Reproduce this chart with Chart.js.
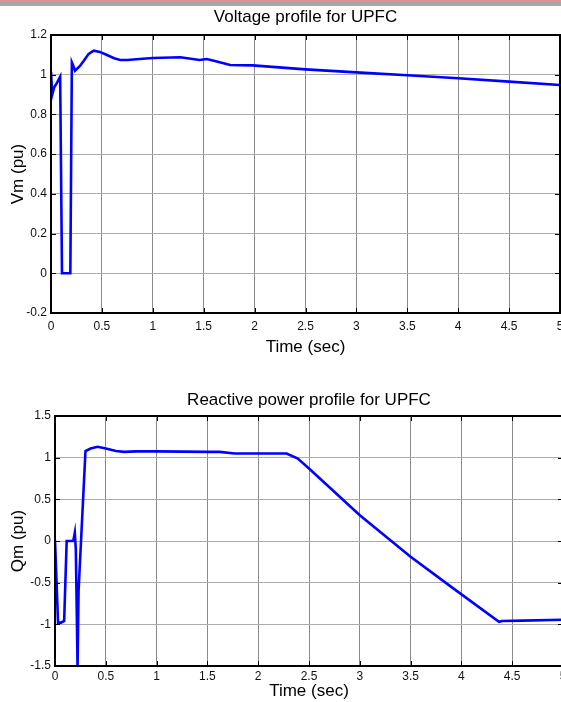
<!DOCTYPE html>
<html>
<head>
<meta charset="utf-8">
<script src="https://cdn.jsdelivr.net/npm/chart.js@4/dist/chart.umd.min.js"></script>
<style>
  html, body { margin: 0; padding: 0; background: #fff; overflow: hidden; }
  #page { position: relative; width: 561px; height: 702px; overflow: hidden; }
  #band { position: absolute; left: 0; top: 0; width: 561px; height: 6px;
          background: linear-gradient(#e09090 0, #e09090 2px, #a6a6a6 2px, #a6a6a6 6px); }
  canvas { position: absolute; left: 0; }
  #vmChart { top: 0; }
  #qmChart { top: 351px; }
</style>
</head>
<body>
<div id="page">
  <div id="band"></div>
  <canvas id="vmChart" width="561" height="365"></canvas>
  <canvas id="qmChart" width="566" height="351"></canvas>
</div>
<script>
// Voltage profile (top plot)
const vmTime = [0, 0.012, 0.03, 0.06, 0.09, 0.108, 0.19, 0.205, 0.215, 0.236, 0.285, 0.317, 0.37, 0.42, 0.48, 0.55, 0.62, 0.68, 0.75, 0.87, 1.0, 1.27, 1.46, 1.53, 1.6, 1.76, 1.98, 2.5, 3.0, 3.5, 4.0, 4.5, 5.0];
const vmValues = [1.015, 0.9, 0.935, 0.96, 0.99, 0, 0, 1.062, 1.05, 1.02, 1.044, 1.066, 1.105, 1.121, 1.115, 1.099, 1.083, 1.074, 1.074, 1.079, 1.084, 1.088, 1.074, 1.079, 1.07, 1.049, 1.047, 1.027, 1.012, 0.997, 0.982, 0.965, 0.948];

// Reactive power profile (bottom plot)
const qmTime = [0, 0.03, 0.06, 0.09, 0.115, 0.18, 0.195, 0.205, 0.222, 0.232, 0.30, 0.35, 0.42, 0.5, 0.6, 0.68, 0.8, 1.0, 1.5, 1.62, 1.77, 2.28, 2.39, 2.5, 3.0, 3.5, 3.9, 4.37, 4.4, 4.6, 5.0];
const qmValues = [0.01, -0.98, -0.98, -0.96, 0, 0, 0.1, -0.1, -1.5, -0.6, 1.08, 1.11, 1.13, 1.11, 1.08, 1.07, 1.075, 1.075, 1.07, 1.07, 1.05, 1.05, 0.99, 0.87, 0.31, -0.19, -0.55, -0.97, -0.96, -0.955, -0.945];

// axis ranges / ticks
const timeRange = [0, 5];
const timeStep = 0.5;
const vmRange = [-0.2, 1.2];
const vmStep = 0.2;
const qmRange = [-1.5, 1.5];
const qmStep = 0.5;

const FONT = "'Liberation Sans', Arial, sans-serif";

function fmt(v) {
    return String(Number(v.toFixed(2)));
}

// box round the plot plus small inward tick marks, matlab style
const framePlugin = {
    id: 'frame',
    afterDraw(chart) {
        const { ctx, chartArea: a, scales } = chart;
        ctx.save();
        ctx.strokeStyle = '#000';
        ctx.lineWidth = 1;
        ctx.beginPath();
        scales.x.ticks.forEach(t => {
            const px = Math.round(scales.x.getPixelForValue(t.value)) + 0.5;
            ctx.moveTo(px, a.top); ctx.lineTo(px, a.top + 5);
            ctx.moveTo(px, a.bottom); ctx.lineTo(px, a.bottom - 5);
        });
        scales.y.ticks.forEach(t => {
            const py = Math.round(scales.y.getPixelForValue(t.value)) + 0.5;
            ctx.moveTo(a.left, py); ctx.lineTo(a.left + 5, py);
            ctx.moveTo(a.right, py); ctx.lineTo(a.right - 5, py);
        });
        ctx.stroke();
        ctx.lineWidth = 2;
        ctx.strokeRect(a.left, a.top, a.right - a.left, a.bottom - a.top);
        ctx.restore();
    }
};

function makeChart(canvasId, cfg) {
    const ctx = document.getElementById(canvasId).getContext('2d');
    return new Chart(ctx, {
        type: 'line',
        data: {
            datasets: [{
                data: cfg.xs.map((x, i) => ({ x: x, y: cfg.ys[i] })),
                borderColor: '#0000ff',
                borderWidth: 2.6,
                pointRadius: 0,
                tension: 0,
                fill: false
            }]
        },
        options: {
            responsive: false,
            animation: false,
            devicePixelRatio: 1,
            layout: { padding: cfg.padding },
            plugins: {
                legend: { display: false },
                tooltip: { enabled: false },
                title: {
                    display: true,
                    text: cfg.title,
                    fullSize: false,
                    color: '#000',
                    font: { family: FONT, size: 17, weight: 'normal', lineHeight: 1.2 },
                    padding: cfg.titlePad
                }
            },
            scales: {
                x: {
                    type: 'linear',
                    min: timeRange[0],
                    max: timeRange[1],
                    afterFit(s) { s.height = cfg.xHeight; s.paddingLeft = 0; s.paddingRight = 0; },
                    ticks: {
                        stepSize: timeStep,
                        autoSkip: false,
                        maxRotation: 0,
                        padding: cfg.xTickPad,
                        color: '#111',
                        font: { family: FONT, size: 12 },
                        callback: v => fmt(v)
                    },
                    grid: { color: '#8a8a8a', lineWidth: 1, drawTicks: false },
                    border: { display: true, color: '#000', width: 2 },
                    title: {
                        display: true,
                        text: 'Time (sec)',
                        color: '#000',
                        font: { family: FONT, size: 17, lineHeight: 1.2 },
                        padding: { top: 0, bottom: cfg.xTitlePad }
                    }
                },
                y: {
                    min: cfg.yRange[0],
                    max: cfg.yRange[1],
                    afterFit(s) { s.width = cfg.yWidth; s.paddingTop = 0; s.paddingBottom = 0; },
                    ticks: {
                        stepSize: cfg.yStep,
                        autoSkip: false,
                        padding: 4,
                        color: '#111',
                        font: { family: FONT, size: 12 },
                        callback: v => fmt(v)
                    },
                    grid: { color: '#acacac', lineWidth: 1, drawTicks: false },
                    border: { display: true, color: '#000', width: 2 },
                    title: {
                        display: true,
                        text: cfg.yTitle,
                        color: '#000',
                        font: { family: FONT, size: 17, lineHeight: 1.2 },
                        padding: { top: 8, bottom: 0 }
                    }
                }
            }
        },
        plugins: [framePlugin]
    });
}

makeChart('vmChart', {
    xs: vmTime, ys: vmValues,
    title: 'Voltage profile for UPFC',
    titlePad: { top: 6.8, bottom: 7.8 },
    padding: { left: 0, right: 1, top: 0, bottom: 0 },
    xHeight: 52, xTitlePad: 7, xTickPad: 6,
    yWidth: 51,
    yRange: vmRange, yStep: vmStep,
    yTitle: 'Vm (pu)'
});

makeChart('qmChart', {
    xs: qmTime, ys: qmValues,
    title: 'Reactive power profile for UPFC',
    titlePad: { top: 39.6, bottom: 5 },
    padding: { left: 0, right: 3, top: 0, bottom: 0 },
    xHeight: 36, xTitlePad: 0, xTickPad: 3,
    yWidth: 55,
    yRange: qmRange, yStep: qmStep,
    yTitle: 'Qm (pu)'
});
</script>
</body>
</html>
